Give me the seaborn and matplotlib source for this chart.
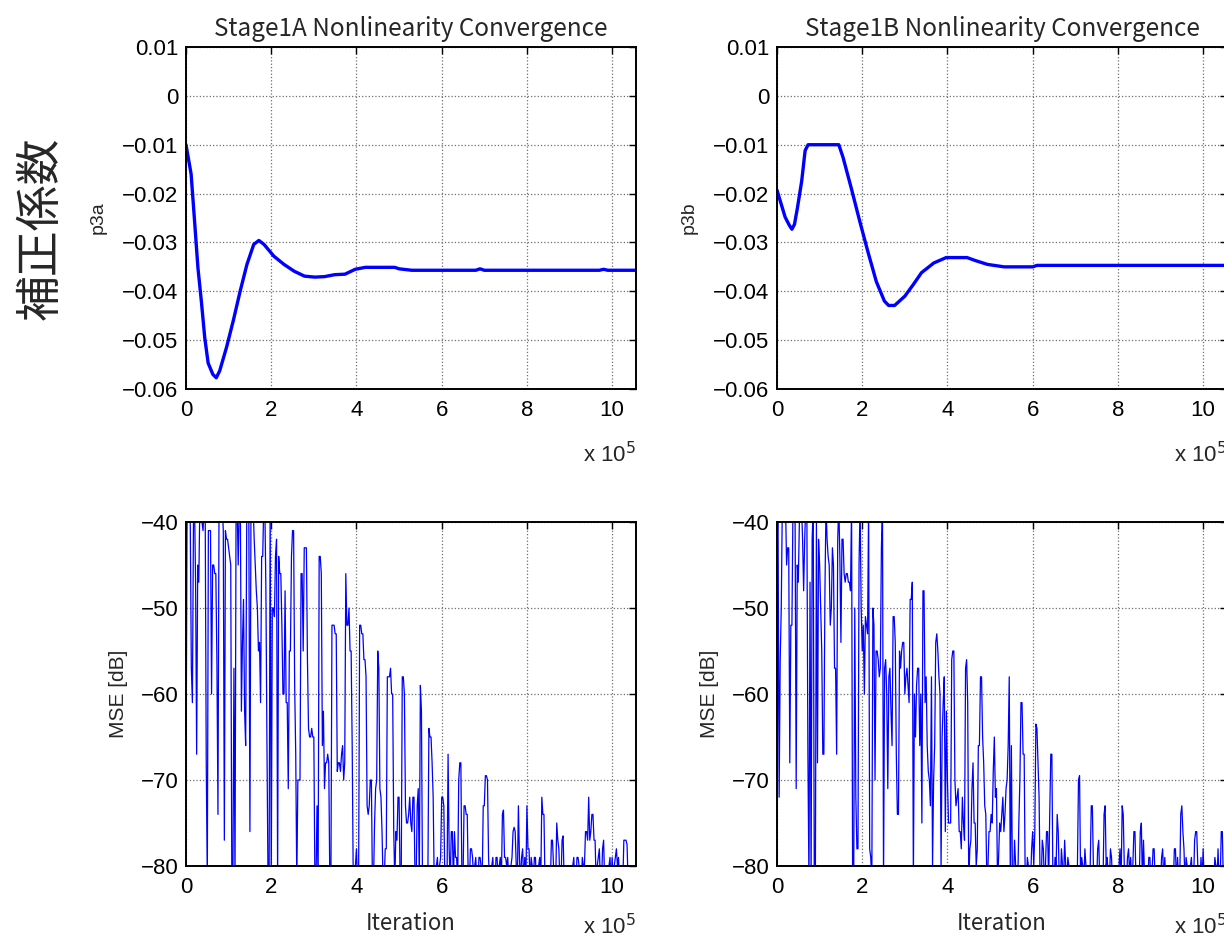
import numpy as np
import pandas as pd
import matplotlib
matplotlib.use("Agg")
import matplotlib.pyplot as plt
import seaborn as sns

# ---------------- data ----------------
# Stage1A nonlinearity coefficient p3a (iteration in units of 1e5)
p3a_iter = [0, 0.12, 0.2, 0.28, 0.36, 0.44, 0.52, 0.63, 0.71, 0.79, 0.95, 1.11, 1.27,
            1.43, 1.59, 1.71, 1.83, 2.06, 2.3, 2.54, 2.78, 3.02, 3.25, 3.49, 3.73, 3.97,
            4.21, 4.9, 5.0, 5.3, 6.8, 6.9, 7.0, 9.7, 9.8, 9.9, 10.56]
p3a_val = [-0.010, -0.016, -0.0255, -0.0352, -0.042, -0.0495, -0.0547, -0.057, -0.0577,
           -0.0563, -0.0515, -0.046, -0.040, -0.0345, -0.0304, -0.0296, -0.0304, -0.0328,
           -0.0345, -0.0359, -0.0369, -0.0371, -0.037, -0.0366, -0.0365, -0.0355, -0.0351,
           -0.0351, -0.0354, -0.0357, -0.0357, -0.0354, -0.0357, -0.0357, -0.0355, -0.0357,
           -0.0357]

# Stage1B nonlinearity coefficient p3b
p3b_iter = [0, 0.1, 0.19, 0.29, 0.35, 0.41, 0.48, 0.58, 0.66, 0.73, 1.45, 1.55, 1.74,
            1.94, 2.13, 2.33, 2.52, 2.62, 2.76, 3.0, 3.2, 3.39, 3.68, 3.97, 4.46, 4.65,
            4.94, 5.33, 6.0, 6.1, 10.6]
p3b_val = [-0.0193, -0.0222, -0.0248, -0.0265, -0.0273, -0.0263, -0.0229, -0.0174,
           -0.0112, -0.010, -0.010, -0.0126, -0.0188, -0.0256, -0.0318, -0.038, -0.042,
           -0.0429, -0.0429, -0.041, -0.0386, -0.0362, -0.0342, -0.0331, -0.0331, -0.0337,
           -0.0345, -0.035, -0.035, -0.0347, -0.0347]

# MSE [dB]: samples every 5000 iterations, plus the samples half-way between them
mse_a = [
    -71, -38, -40, -61, -38, -67, -47, -38, -41, -38,
    -82, -41, -60, -45, -46, -74, -38, -38, -77, -42,
    -43, -45, -82, -82, -38, -38, -62, -49, -66, -38,
    -76, -38, -42, -48, -55, -61, -44, -38, -66, -82,
    -82, -50, -44, -82, -46, -52, -60, -61, -71, -55,
    -41, -59, -82, -70, -46, -55, -43, -56, -65, -64,
    -65, -82, -82, -44, -66, -71, -68, -68, -82, -52,
    -53, -69, -68, -67, -70, -46, -52, -55, -66, -82,
    -78, -82, -52, -53, -56, -73, -73, -70, -82, -71,
    -55, -71, -76, -82, -78, -58, -57, -60, -82, -77,
    -72, -82, -58, -73, -75, -72, -76, -72, -82, -71,
    -59, -82, -82, -80, -64, -65, -72, -82, -79, -80,
    -72, -73, -82, -67, -82, -76, -76, -79, -70, -68,
    -82, -73, -74, -82, -78, -82, -79, -82, -79, -82,
    -73, -69.5, -79, -82, -79, -82, -79, -80, -82, -73.5,
    -79, -79, -82, -79, -75.5, -80, -73, -82, -78, -79,
    -73, -78, -79, -82, -79, -82, -79, -72, -74, -82,
    -82, -82, -77, -82, -75, -78, -82, -76.5, -82, -82,
    -82, -82, -79, -82, -79, -82, -79, -80, -76, -72,
    -76, -74, -77, -80, -78, -82, -77, -82, -82, -79,
    -79, -80, -78, -79, -82, -82, -77, -77.5, -82,
]
mse_a_half = [
    -38, -40, -57, -40, -47, -45, -38, -40, -38, -68,
    -41, -41, -45, -46, -56, -38, -38, -41, -41, -42,
    -44, -82, -57, -38, -45, -38, -54, -62, -40, -40,
    -38, -38, -45, -50, -54, -44, -38, -48, -82, -38,
    -50, -51, -42, -44, -46, -60, -48, -61, -55, -44,
    -41, -67, -70, -70, -46, -43, -43, -64, -65, -65,
    -82, -73, -44, -46, -62, -68, -67, -82, -52, -52,
    -53, -68, -69, -66, -68, -52, -50, -55, -82, -80,
    -82, -52, -53, -56, -58, -74, -70, -82, -75, -70,
    -57, -72, -82, -78, -58, -58, -60, -76, -76, -72,
    -82, -58, -60, -75, -74, -75, -72, -82, -73, -82,
    -62, -82, -80, -82, -65, -68, -82, -80, -82, -79,
    -72, -82, -82, -78, -76, -82, -79, -82, -68, -82,
    -73, -74, -82, -78, -79, -80, -82, -79, -80, -73,
    -69.5, -70, -82, -80, -82, -79, -82, -79, -74, -79,
    -80, -82, -80, -76, -76, -82, -79, -79, -82, -82,
    -78, -82, -80, -79, -82, -80, -82, -74, -82, -82,
    -82, -77, -80, -82, -77, -82, -77, -82, -82, -82,
    -82, -80, -82, -79, -80, -82, -80, -76, -77, -77,
    -74, -77, -82, -79, -82, -78, -82, -82, -80, -82,
    -82, -79, -80, -82, -82, -77, -77, -82,
]
mse_b = [
    -80, -72, -50, -38, -38, -43, -68, -52, -38, -71,
    -47, -38, -42, -42, -38, -82, -82, -38, -82, -68,
    -45, -55, -67, -38, -44, -52, -43, -57, -67, -38,
    -54, -42, -47, -46, -47, -38, -82, -72, -78, -38,
    -55, -60, -52, -38, -79, -50, -70, -55, -58, -43,
    -82, -56, -71, -57, -66, -51, -67, -74, -57, -54,
    -60, -57, -61, -49, -82, -65, -57, -66, -75, -48,
    -58, -69, -73, -80, -66, -53, -58, -80, -61, -76,
    -70, -75, -56, -55, -73, -71, -76, -72, -77, -56,
    -82, -77, -68, -75, -78, -66, -58, -68, -74, -80,
    -76, -75, -65, -71, -79, -76, -72, -74, -70, -58,
    -66, -82, -80, -82, -70, -61, -67, -82, -80, -82,
    -76, -76, -64, -72, -82, -78, -80, -76, -74, -67,
    -82, -80, -76, -82, -80, -77, -82, -80, -82, -80,
    -82, -80, -69.5, -79, -82, -80, -82, -80, -73, -80,
    -82, -77, -80, -82, -73, -79, -82, -79, -82, -80,
    -82, -78, -73, -80, -82, -78, -79, -80, -76, -80,
    -82, -75, -77, -80, -82, -79, -81, -78, -82, -80,
    -82, -78, -79, -82, -80, -81, -82, -78, -79, -82,
    -73, -78, -79, -82, -80, -82, -77, -76, -82, -79,
    -78, -82, -82, -80, -81, -82, -80, -78, -82, -76, -80,
]
mse_b_half = [
    -40, -56, -38, -40, -45, -43, -52, -38, -40, -45,
    -40, -38, -48, -38, -67, -47, -42, -82, -40, -42,
    -50, -67, -48, -42, -45, -50, -45, -57, -42, -44,
    -42, -46, -46, -47, -48, -82, -50, -78, -45, -50,
    -52, -51, -53, -78, -82, -52, -55, -56, -57, -38,
    -57, -60, -58, -62, -51, -54, -74, -55, -55, -54,
    -58, -59, -49, -47, -60, -59, -57, -60, -48, -61,
    -66, -70, -58, -70, -54, -55, -60, -65, -58, -62,
    -75, -75, -55, -70, -72, -76, -78, -75, -57, -61,
    -78, -71, -75, -80, -66, -58, -65, -73, -82, -76,
    -74, -69, -72, -82, -75, -74, -76, -71, -66, -82,
    -82, -77, -82, -75, -61, -67, -82, -79, -82, -78,
    -80, -63.5, -68, -82, -77, -82, -76, -82, -67, -82,
    -79, -74, -82, -78, -82, -80, -79, -82, -81, -82,
    -82, -70, -82, -80, -78, -82, -81, -73, -80, -82,
    -78, -82, -81, -74, -80, -82, -78, -82, -81, -82,
    -80, -82, -74, -82, -79, -81, -82, -76, -82, -82,
    -76, -82, -81, -82, -79, -82, -78, -82, -82, -82,
    -79, -82, -82, -81, -82, -80, -78, -82, -82, -74,
    -76, -82, -80, -82, -79, -82, -76, -80, -82, -82,
    -82, -80, -81, -82, -82, -79, -82, -82, -76, -82,
]
mse_step = 5000

titles = ["Stage1A Nonlinearity Convergence", "Stage1B Nonlinearity Convergence"]
coef_labels = ["p3a", "p3b"]
xtick_vals = [0, 2, 4, 6, 8, 10]
coef_yticks = [-0.06, -0.05, -0.04, -0.03, -0.02, -0.01, 0, 0.01]
coef_yticklabels = ["\u22120.06", "\u22120.05", "\u22120.04", "\u22120.03", "\u22120.02",
                    "\u22120.01", "0", "0.01"]
mse_yticks = [-80, -70, -60, -50, -40]
mse_yticklabels = ["\u221280", "\u221270", "\u221260", "\u221250", "\u221240"]
side_label = "補正係数"

# ---------------- style ----------------
sns.set_style("white")
plt.rcParams["font.family"] = ["Liberation Sans", "Noto Sans CJK JP", "DejaVu Sans"]
GOTHIC = ["Noto Sans CJK JP", "DejaVu Sans"]

W, H = 1224, 940
fig = plt.figure(figsize=(W / 100, H / 100), dpi=100)

def px_axes(left, top, right, bottom):
    return fig.add_axes([left / W, 1 - bottom / H, (right - left) / W, (bottom - top) / H])

ax_tl = px_axes(186, 47, 636, 389)
ax_tr = px_axes(777, 47, 1227, 389)
ax_bl = px_axes(186, 522, 636, 866)
ax_br = px_axes(777, 522, 1227, 866)

XMAX = 10.56e5

def style_axes(ax, exp_y):
    ax.set_xlim(0, XMAX)
    ax.set_xticks([v * 1e5 for v in xtick_vals])
    ax.set_xticklabels([str(v) for v in xtick_vals])
    ax.grid(True, color="#6f6f6f", linestyle=":", linewidth=0.9)
    ax.set_axisbelow(True)
    for s in ax.spines.values():
        s.set_visible(True)
        s.set_color("black")
        s.set_linewidth(1.4)
    ax.tick_params(direction="in", length=5, width=1, top=True, right=True,
                   labelsize=16, colors="black")
    ax.tick_params(axis="x", pad=8)
    ax.tick_params(axis="y", pad=5.5)
    ax.text(1.0, exp_y, r"x 10$^{5}$", transform=ax.transAxes, ha="right", va="top",
            fontsize=16)

# coefficient plots
for ax, it, val, title, lab in [(ax_tl, p3a_iter, p3a_val, titles[0], coef_labels[0]),
                                (ax_tr, p3b_iter, p3b_val, titles[1], coef_labels[1])]:
    df = pd.DataFrame({"iter": np.array(it) * 1e5, "val": val})
    sns.lineplot(data=df, x="iter", y="val", ax=ax, color="#0000ff", linewidth=2.4,
                 estimator=None, sort=False)
    style_axes(ax, -0.155)
    ax.set_ylim(-0.06, 0.01)
    ax.set_yticks(coef_yticks)
    ax.set_yticklabels(coef_yticklabels)
    ax.set_xlabel("")
    ax.set_ylabel(lab, fontsize=14, labelpad=11)
    ax.set_title(title, fontsize=17.5, family=GOTHIC, pad=8)

# MSE plots
for ax, vals, half in [(ax_bl, mse_a, mse_a_half), (ax_br, mse_b, mse_b_half)]:
    it = np.concatenate([np.arange(len(vals)) * mse_step,
                         np.arange(len(half)) * mse_step + mse_step // 2])
    df = pd.DataFrame({"iter": it, "mse": list(vals) + list(half)}).sort_values("iter")
    sns.lineplot(data=df, x="iter", y="mse", ax=ax, color="#0000ff", linewidth=0.9,
                 estimator=None, sort=True)
    style_axes(ax, -0.14)
    ax.set_ylim(-80, -40)
    ax.set_yticks(mse_yticks)
    ax.set_yticklabels(mse_yticklabels)
    ax.set_ylabel("MSE [dB]", fontsize=15, labelpad=9)
    ax.set_xlabel("Iteration", fontsize=16, family=GOTHIC, labelpad=10)

fig.text(40 / W, 1 - 228 / H, side_label, rotation=90, ha="center", va="center",
         fontsize=33, family=GOTHIC)

fig.savefig("out.png", dpi=100)
